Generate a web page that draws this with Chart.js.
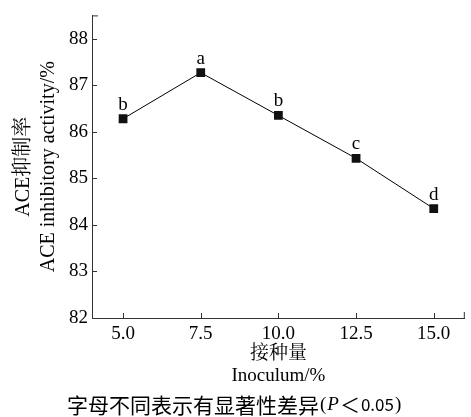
<!DOCTYPE html>
<html>
<head>
<meta charset="utf-8">
<script src="https://cdn.jsdelivr.net/npm/chart.js@4.4.0/dist/chart.umd.min.js"></script>
<style>
html, body { margin: 0; padding: 0; background: #fff; }
#wrap { width: 471px; height: 417px; }
</style>
</head>
<body>
<div id="wrap"><canvas id="chart" width="471" height="417"></canvas></div>
<script>
// data
const inoculum = [5.0, 7.5, 10.0, 12.5, 15.0];
const aceActivity = [86.28, 87.27, 86.35, 85.43, 84.35];
const sigLetters = ['b', 'a', 'b', 'c', 'd'];
const xTicks = [5.0, 7.5, 10.0, 12.5, 15.0];
const yTicks = [82, 83, 84, 85, 86, 87, 88];

const serif = "'Liberation Serif', 'Times New Roman', 'Noto Serif CJK SC', 'Noto Sans CJK SC', serif";
const cjk = "'Noto Sans CJK SC', 'Noto Sans CJK JP', sans-serif";
const axisColor = '#333';

// letters above each point
const letterPlugin = {
    id: 'letters',
    afterDatasetsDraw(chart) {
        const ctx = chart.ctx;
        const meta = chart.getDatasetMeta(0);
        ctx.save();
        ctx.fillStyle = '#000';
        ctx.font = '19px ' + serif;
        ctx.textAlign = 'center';
        ctx.textBaseline = 'alphabetic';
        meta.data.forEach((pt, i) => {
            ctx.fillText(sigLetters[i], pt.x, pt.y - 9);
        });
        ctx.restore();
    }
};

// inward tick marks plus the end markers of both axes
const tickPlugin = {
    id: 'inwardTicks',
    afterDraw(chart) {
        const ctx = chart.ctx;
        const xs = chart.scales.x;
        const ys = chart.scales.y;
        const a = chart.chartArea;
        ctx.save();
        ctx.strokeStyle = axisColor;
        ctx.lineWidth = 1;
        ctx.beginPath();
        yTicks.forEach(v => {
            const y = Math.round(ys.getPixelForValue(v)) + 0.5;
            ctx.moveTo(a.left, y);
            ctx.lineTo(a.left + 5, y);
        });
        ctx.moveTo(a.left, a.top + 0.5);
        ctx.lineTo(a.left + 6, a.top + 0.5);
        xTicks.forEach(v => {
            const x = Math.round(xs.getPixelForValue(v)) + 0.5;
            ctx.moveTo(x, a.bottom);
            ctx.lineTo(x, a.bottom - 5);
        });
        ctx.moveTo(a.right - 0.5, a.bottom);
        ctx.lineTo(a.right - 0.5, a.bottom - 6);
        ctx.stroke();
        ctx.restore();
    }
};

// caption under the chart
const captionPlugin = {
    id: 'caption',
    afterDraw(chart) {
        const ctx = chart.ctx;
        let x = 67;
        const y = 405;
        ctx.save();
        ctx.fillStyle = '#000';
        ctx.textBaseline = 'middle';
        ctx.textAlign = 'left';
        const parts = [
            ['字母不同表示有显著性差异', '21px ' + cjk],
            ['(', '19px ' + serif],
            ['P', 'italic 19px ' + serif],
            ['＜', '20px ' + cjk],
            ['0.05', '17px ' + cjk],
            [')', '19px ' + serif]
        ];
        parts.forEach(p => {
            ctx.font = p[1];
            ctx.fillText(p[0], x, y);
            x += ctx.measureText(p[0]).width + 1;
        });
        ctx.restore();
    }
};

const ctx = document.getElementById('chart').getContext('2d');

new Chart(ctx, {
    type: 'line',
    data: {
        datasets: [{
            label: 'ACE',
            data: inoculum.map((v, i) => ({ x: v, y: aceActivity[i] })),
            borderColor: '#000',
            borderWidth: 1,
            backgroundColor: '#111',
            pointStyle: 'rect',
            pointRadius: 6.2,
            pointBorderWidth: 0,
            tension: 0,
            fill: false
        }]
    },
    options: {
        responsive: false,
        animation: false,
        events: [],
        layout: { padding: { left: 0, top: 8, right: 3, bottom: 30 } },
        plugins: {
            legend: { display: false },
            tooltip: { enabled: false }
        },
        scales: {
            x: {
                type: 'linear',
                min: 4,
                max: 16,
                afterBuildTicks: s => { s.ticks = xTicks.map(v => ({ value: v })); },
                afterFit: s => { s.height = 69; },
                grid: { display: false, drawTicks: false },
                border: { display: true, color: axisColor, width: 1 },
                ticks: {
                    color: '#000',
                    padding: 5,
                    font: { family: serif, size: 19 },
                    callback: v => Number(v).toFixed(1)
                },
                title: {
                    display: true,
                    text: ['接种量', 'Inoculum/%'],
                    color: '#000',
                    font: { family: serif, size: 19, lineHeight: 1.16 },
                    padding: { top: 0, bottom: 0 }
                }
            },
            y: {
                min: 82,
                max: 88.5,
                afterBuildTicks: s => { s.ticks = yTicks.map(v => ({ value: v })); },
                afterFit: s => { s.width = 92; },
                grid: { display: false, drawTicks: false },
                border: { display: true, color: axisColor, width: 1 },
                ticks: {
                    color: '#000',
                    padding: 4,
                    font: { family: serif, size: 19 }
                },
                title: {
                    display: true,
                    text: ['ACE抑制率', 'ACE inhibitory activity/%'],
                    color: '#000',
                    font: { family: serif, size: 20, lineHeight: 1.25 },
                    padding: { top: 11, bottom: 0 }
                }
            }
        }
    },
    plugins: [letterPlugin, tickPlugin, captionPlugin]
});
</script>
</body>
</html>
